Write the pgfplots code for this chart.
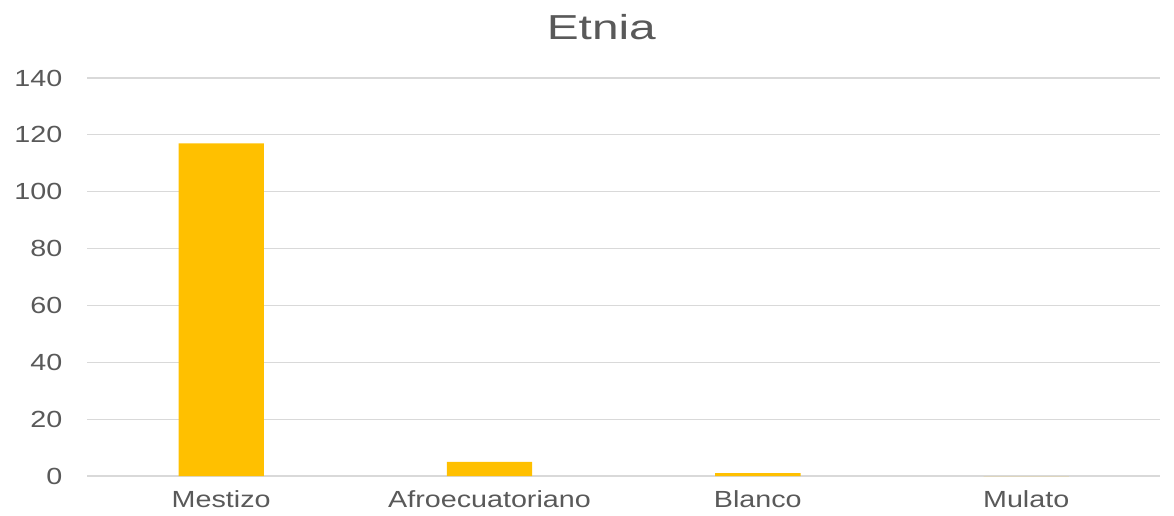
\documentclass[border=0pt]{standalone}
\usepackage{pgfplots}
\pgfplotsset{compat=1.18}
\usepackage{fontspec}
\setmainfont{Liberation Sans}
\newfontfamily\labfont[FakeStretch=1.23]{Liberation Sans}
\newfontfamily\titlefont[FakeStretch=1.38]{Liberation Sans}
\definecolor{txt}{HTML}{595959}
\definecolor{grid}{HTML}{D9D9D9}
\definecolor{bar}{HTML}{FFC000}
\begin{document}
\begin{tikzpicture}
\useasboundingbox (0,0) rectangle (880.5pt,386.25pt);
\begin{axis}[
  at={(65.25pt,29.25pt)}, anchor=south west,
  scale only axis, width=805pt, height=298.5pt,
  xmin=-0.5, xmax=3.5, ymin=0, ymax=140,
  ytick={0,20,...,140},
  xtick={0,1,2,3},
  xticklabels={Mestizo,Afroecuatoriano,Blanco,Mulato},
  axis x line*=bottom, axis y line*=left,
  y axis line style={draw=none},
  x axis line style={draw=grid, line width=1pt, -},
  ymajorgrids, grid style={draw=grid, line width=0.9pt},
  major tick length=0pt,
  tick label style={font=\labfont\fontsize{17.5}{20}\selectfont, text=txt},
  /pgf/number format/assume math mode=true,
  yticklabel style={xshift=-15pt},
  xticklabel style={yshift=-10pt, inner sep=1pt},
  ybar, bar width=64pt,
]
\addplot[fill=bar, draw=none] coordinates {(0,117) (1,5) (2,1) (3,0)};
\end{axis}
\node[text=txt, font=\titlefont\fontsize{26}{30}\selectfont] at (451pt,366pt) {Etnia};
\end{tikzpicture}
\end{document}
